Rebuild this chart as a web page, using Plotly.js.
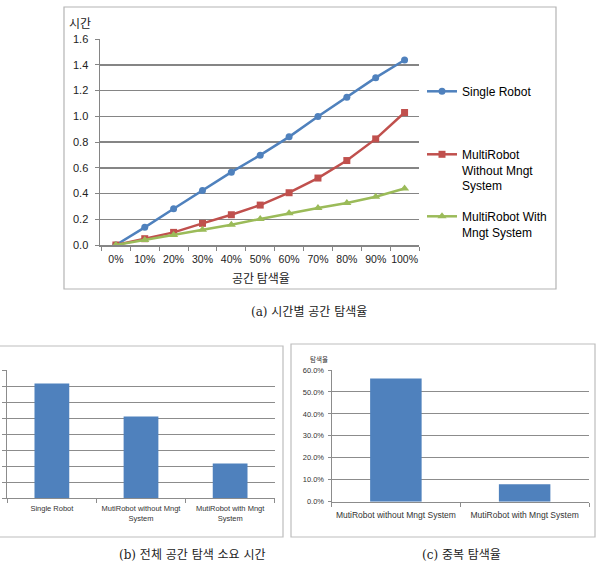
<!DOCTYPE html>
<html>
<head>
<meta charset="utf-8">
<script src="https://cdn.plot.ly/plotly-3.0.1.min.js"></script>
<style>html,body{margin:0;padding:0;background:#fff;}#chart{width:600px;height:584px;}</style>
</head>
<body>
<div id="chart"></div>
<script>
// ---- data ----
const exploreRates = ['0%','10%','20%','30%','40%','50%','60%','70%','80%','90%','100%'];
const singleRobot = [0, 0.137, 0.282, 0.424, 0.566, 0.698, 0.840, 0.998, 1.148, 1.300, 1.437];
const multiWithout = [0, 0.049, 0.098, 0.168, 0.235, 0.310, 0.406, 0.520, 0.656, 0.824, 1.029];
const multiWith = [0, 0.039, 0.078, 0.119, 0.158, 0.202, 0.246, 0.287, 0.326, 0.375, 0.439];
const seriesNames = ['Single Robot', 'MultiRobot<br>Without Mngt<br>System', 'MultiRobot With<br>Mngt System'];

const totalCats = ['Single Robot', 'MutiRobot without Mngt<br>System', 'MutiRobot with Mngt<br>System'];
const totalTime = [1.43, 1.02, 0.43];

const overlapCats = ['MutiRobot without Mngt System', 'MutiRobot with Mngt System'];
const overlapRate = [0.561, 0.079];

const captions = ['(a) 시간별 공간 탐색율', '(b) 전체 공간 탐색 소요 시간', '(c) 중복 탐색율'];
const titleA_y = '시간';
const titleA_x = '공간 탐색율';
const titleC_y = '탐색율';

// ---- helpers (pixel -> paper) ----
const W = 600, H = 584;
const px = v => v / W;
const py = v => 1 - v / H;

const BLUE = '#4F81BD', RED = '#C0504D', GREEN = '#9BBB59';
const FONT = 'Liberation Sans, Arial, Noto Sans CJK KR, sans-serif';
const KFONT = 'Noto Sans CJK KR, sans-serif';

const traces = [
  {x: exploreRates, y: singleRobot, name: seriesNames[0], type: 'scatter', mode: 'lines+markers',
   line: {color: BLUE, width: 2.5}, marker: {symbol: 'circle', size: 7, color: BLUE},
   xaxis: 'x', yaxis: 'y', legend: 'legend'},
  {x: exploreRates, y: multiWithout, name: seriesNames[1], type: 'scatter', mode: 'lines+markers',
   line: {color: RED, width: 2.5}, marker: {symbol: 'square', size: 7, color: RED},
   xaxis: 'x', yaxis: 'y', legend: 'legend2'},
  {x: exploreRates, y: multiWith, name: seriesNames[2], type: 'scatter', mode: 'lines+markers',
   line: {color: GREEN, width: 2.5}, marker: {symbol: 'triangle-up', size: 8, color: GREEN},
   xaxis: 'x', yaxis: 'y', legend: 'legend3'},
  {x: totalCats, y: totalTime, type: 'bar', width: 0.39, marker: {color: BLUE},
   xaxis: 'x2', yaxis: 'y2', showlegend: false},
  {x: overlapCats, y: overlapRate, type: 'bar', width: 0.4, marker: {color: BLUE},
   xaxis: 'x3', yaxis: 'y3', showlegend: false}
];

const legendCommon = {font: {family: FONT, size: 12, color: '#000'}, bgcolor: 'rgba(0,0,0,0)',
  borderwidth: 0, xanchor: 'left', yanchor: 'top', valign: 'top', itemclick: false, tracegroupgap: 0};

const gridA = '#858585';
const gridB = '#8c8c8c';

const layout = {
  width: W, height: H,
  margin: {l: 0, r: 0, t: 0, b: 0},
  paper_bgcolor: '#fff', plot_bgcolor: '#fff',
  showlegend: true,
  font: {family: FONT},
  legend: Object.assign({}, legendCommon, {x: px(422), y: py(77)}),
  legend2: Object.assign({}, legendCommon, {x: px(422), y: py(140)}),
  legend3: Object.assign({}, legendCommon, {x: px(422), y: py(202)}),
  xaxis: {domain: [px(100), px(419)], range: [-0.55, 10.5], type: 'category',
    showgrid: false, showline: true, linecolor: gridA, linewidth: 1.5,
    ticks: 'outside', tickson: 'boundaries', ticklen: 4, tickcolor: gridA, tickangle: 0,
    ticklabelstandoff: 4,
    tickfont: {family: FONT, size: 10.5, color: '#222'}, anchor: 'y', fixedrange: true},
  yaxis: {domain: [py(245), py(39)], range: [0, 1.6], dtick: 0.2, tickformat: '.1f',
    showgrid: true, gridcolor: gridA, gridwidth: 1.5, zeroline: false,
    showline: true, linecolor: gridA, linewidth: 1.5,
    ticks: 'outside', ticklen: 4, tickcolor: gridA, ticklabelstandoff: 4,
    tickfont: {family: FONT, size: 11, color: '#222'}, anchor: 'x', fixedrange: true},
  xaxis2: {domain: [px(7.3), px(274.7)], type: 'category', range: [-0.5, 2.5],
    showgrid: false, showline: true, linecolor: gridB, linewidth: 1,
    ticks: 'outside', tickson: 'boundaries', ticklen: 4, tickcolor: gridB, tickangle: 0,
    ticklabelstandoff: 3,
    tickfont: {family: FONT, size: 7.5, color: '#333'}, anchor: 'y2', fixedrange: true},
  yaxis2: {domain: [py(498), py(370)], range: [0, 1.6], dtick: 0.2,
    showgrid: true, gridcolor: gridB, gridwidth: 1, zeroline: false,
    showline: true, linecolor: gridB, linewidth: 1,
    ticks: 'outside', ticklen: 4, tickcolor: gridB, showticklabels: false,
    anchor: 'x2', fixedrange: true},
  xaxis3: {domain: [px(331.5), px(589)], type: 'category', range: [-0.5, 1.5],
    showgrid: false, showline: true, linecolor: gridB, linewidth: 1,
    ticks: 'outside', tickson: 'boundaries', ticklen: 4, tickcolor: gridB, tickangle: 0,
    ticklabelstandoff: 5,
    tickfont: {family: FONT, size: 8.5, color: '#333'}, anchor: 'y3', fixedrange: true},
  yaxis3: {domain: [py(501.7), py(370)], range: [0, 0.6], dtick: 0.1, tickformat: '.1%',
    showgrid: true, gridcolor: gridB, gridwidth: 1, zeroline: false,
    showline: true, linecolor: gridB, linewidth: 1,
    ticks: 'outside', ticklen: 3, tickcolor: gridB, ticklabelstandoff: 2,
    tickfont: {family: FONT, size: 7.5, color: '#333'}, anchor: 'x3', fixedrange: true},
  shapes: [
    {type: 'rect', xref: 'paper', yref: 'paper', x0: px(64), x1: px(556), y0: py(289), y1: py(7),
     line: {color: '#b4b4b4', width: 1.2}, layer: 'below'},
    {type: 'rect', xref: 'paper', yref: 'paper', x0: px(-3), x1: px(283), y0: py(537), y1: py(346),
     line: {color: '#bdbdbd', width: 1.2}, layer: 'below'},
    {type: 'rect', xref: 'paper', yref: 'paper', x0: px(291), x1: px(595), y0: py(537), y1: py(344),
     line: {color: '#bdbdbd', width: 1.2}, layer: 'below'}
  ],
  annotations: [
    {text: titleA_y, xref: 'paper', yref: 'paper', x: px(67), y: py(23), xanchor: 'left', yanchor: 'middle',
     showarrow: false, font: {family: KFONT, size: 12, color: '#222'}},
    {text: titleA_x, xref: 'paper', yref: 'paper', x: px(261), y: py(277), xanchor: 'center', yanchor: 'middle',
     showarrow: false, font: {family: KFONT, size: 12, color: '#222'}},
    {text: titleC_y, xref: 'paper', yref: 'paper', x: px(308), y: py(359), xanchor: 'left', yanchor: 'middle',
     showarrow: false, font: {family: KFONT, size: 6.5, color: '#333'}},
    {text: captions[0], xref: 'paper', yref: 'paper', x: px(309), y: py(312), xanchor: 'center', yanchor: 'middle',
     showarrow: false, font: {family: 'DejaVu Serif, Noto Sans CJK KR, serif', size: 12, color: '#222'}},
    {text: captions[1], xref: 'paper', yref: 'paper', x: px(192), y: py(555), xanchor: 'center', yanchor: 'middle',
     showarrow: false, font: {family: 'DejaVu Serif, Noto Sans CJK KR, serif', size: 12, color: '#222'}},
    {text: captions[2], xref: 'paper', yref: 'paper', x: px(461), y: py(555), xanchor: 'center', yanchor: 'middle',
     showarrow: false, font: {family: 'DejaVu Serif, Noto Sans CJK KR, serif', size: 12, color: '#222'}}
  ]
};

Plotly.newPlot('chart', traces, layout, {displayModeBar: false, staticPlot: true});
</script>
</body>
</html>
